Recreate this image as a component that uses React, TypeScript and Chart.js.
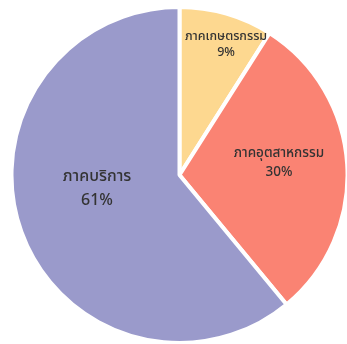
import React, { useEffect, useRef } from "react";
import { Chart, registerables } from "chart.js";

Chart.register(...registerables);

const categories = ["ภาคเกษตรกรรม", "ภาคอุตสาหกรรม", "ภาคบริการ"];
const shares = [9, 30, 61];
const percentLabels = ["9%", "30%", "61%"];

const sliceColors = ["#FDD890", "#FA8373", "#9A9ACB"];
const labelFontSizes = [12.5, 13.5, 16];
const labelLineGaps = [16, 19, 24];
// label block centre relative to pie centre, as fraction of the radius
const labelOffsets = [
  [0.277, -0.771],
  [0.592, -0.068],
  [-0.491, 0.086],
];

const FONT = "'Noto Sans Thai', 'Noto Sans', 'DejaVu Sans', sans-serif";

const labelPlugin = {
  id: "sliceLabels",
  afterDatasetsDraw(chart: any) {
    const ctx = chart.ctx;
    const meta = chart.getDatasetMeta(0);
    meta.data.forEach((arc: any, i: number) => {
      const { x, y, outerRadius } = arc.getProps(["x", "y", "outerRadius"], true);
      const cx = x + labelOffsets[i][0] * outerRadius;
      const cy = y + labelOffsets[i][1] * outerRadius;
      ctx.save();
      ctx.fillStyle = "#333333";
      ctx.textAlign = "center";
      ctx.textBaseline = "middle";
      ctx.font = `500 ${labelFontSizes[i]}px ${FONT}`;
      const g = labelLineGaps[i];
      ctx.fillText(categories[i], cx, cy - g / 2);
      ctx.fillText(percentLabels[i], cx, cy + g / 2);
      ctx.restore();
    });
  },
};

export default function App() {
  const ref = useRef<HTMLCanvasElement | null>(null);
  useEffect(() => {
    if (!ref.current) return;
    const chart = new Chart(ref.current, {
      type: "pie",
      data: {
        labels: categories,
        datasets: [
          {
            data: shares,
            backgroundColor: sliceColors,
            borderColor: "#ffffff",
            borderWidth: 4,
            clip: false as any,
          },
        ],
      },
      options: {
        responsive: false,
        animation: false,
        radius: 168,
        layout: { padding: { left: 12, right: 0, top: 6, bottom: 0 } },
        plugins: {
          legend: { display: false },
          tooltip: { enabled: false },
        },
      } as any,
      plugins: [labelPlugin],
    });
    return () => chart.destroy();
  }, []);
  return (
    <div style={{ position: "fixed", left: 0, top: 0, width: 347, height: 344, background: "#fff" }}>
      <canvas ref={ref} width={347} height={344} style={{ display: "block" }} />
    </div>
  );
}
